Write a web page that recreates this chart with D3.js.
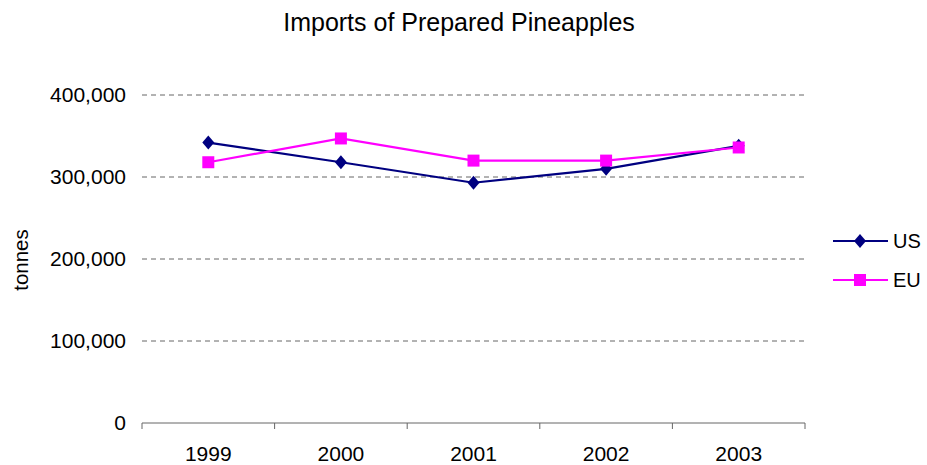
<!DOCTYPE html>
<html><head><meta charset="utf-8">
<script src="https://cdn.jsdelivr.net/npm/d3@7"></script>
<style>body{margin:0;background:#fff}svg{display:block;font-family:"Liberation Sans",Arial,sans-serif}</style>
</head><body><svg id="c" width="927" height="465"></svg>
<script>
const years = ["1999","2000","2001","2002","2003"];
const usValues = [342000, 318000, 293000, 310000, 338000];
const euValues = [318000, 347000, 320000, 320000, 336000];
const yTicks = [0, 100000, 200000, 300000, 400000];
const seriesNames = ["US","EU"];
const colors = ["#000080","#FF00FF"];

const svg = d3.select("#c");
const L = 142, R = 805, T = 95, B = 423;
const x = d3.scaleBand().domain(years).range([L, R]).padding(0);
const y = d3.scaleLinear().domain([0, 400000]).range([B, T]);
const fmt = d3.format(",");

// title
svg.append("text").attr("x", 459).attr("y", 31).attr("text-anchor","middle")
  .attr("font-size", 25).attr("fill","#000").text("Imports of Prepared Pineapples");

// gridlines
svg.append("g").selectAll("line").data(yTicks.filter(d=>d>0)).join("line")
  .attr("x1", L).attr("x2", R).attr("y1", d=>y(d)).attr("y2", d=>y(d))
  .attr("stroke","#666").attr("stroke-width",1).attr("stroke-dasharray","5,4");

// y labels
svg.append("g").selectAll("text").data(yTicks).join("text")
  .attr("x", 126).attr("y", d=>y(d)).attr("dy","0.35em").attr("text-anchor","end")
  .attr("font-size", 21).text(d=>fmt(d));

// y title
svg.append("text").attr("transform","translate(21,260) rotate(-90)").attr("text-anchor","middle")
  .attr("dy","0.35em").attr("font-size",20.5).text("tonnes");

// x axis
const xa = svg.append("g").attr("transform",`translate(0,${B})`)
  .call(d3.axisBottom(x).tickSize(0).tickPadding(23));
xa.select(".domain").attr("stroke","#666").attr("d",`M${L},0H${R}`);
xa.selectAll("text").attr("font-size",21).attr("font-family","Liberation Sans, Arial, sans-serif").attr("fill","#000");
const bounds = years.map(d=>x(d)).concat([R]);
svg.append("g").selectAll("line").data(bounds).join("line")
  .attr("x1",d=>d).attr("x2",d=>d).attr("y1",B).attr("y2",B+6).attr("stroke","#666");

const cx = d => x(d) + x.bandwidth()/2;
const data = [usValues, euValues];
const line = d3.line().x((d,i)=>cx(years[i])).y(d=>y(d));
const diamondPath = "M0,-7L6,0L0,7L-6,0Z";
const squarePath = "M-6,-6H6V6H-6Z";

data.forEach((vals, si) => {
  svg.append("path").datum(vals).attr("d", line).attr("fill","none")
    .attr("stroke", colors[si]).attr("stroke-width", 2.2);
});
data.forEach((vals, si) => {
  svg.append("g").selectAll("path").data(vals).join("path")
    .attr("transform",(d,i)=>`translate(${cx(years[i])},${y(d)})`)
    .attr("d", si===0 ? diamondPath : squarePath).attr("fill", colors[si]);
});

// legend
const leg = svg.append("g");
seriesNames.forEach((n, i) => {
  const ly = 241 + i*39;
  leg.append("line").attr("x1",833).attr("x2",888).attr("y1",ly).attr("y2",ly)
    .attr("stroke",colors[i]).attr("stroke-width",2.2);
  leg.append("path").attr("transform",`translate(860,${ly})`)
    .attr("d", i===0 ? diamondPath : squarePath).attr("fill",colors[i]);
  leg.append("text").attr("x",893).attr("y",ly).attr("dy","0.35em")
    .attr("font-size",20).text(n);
});
</script></body></html>
